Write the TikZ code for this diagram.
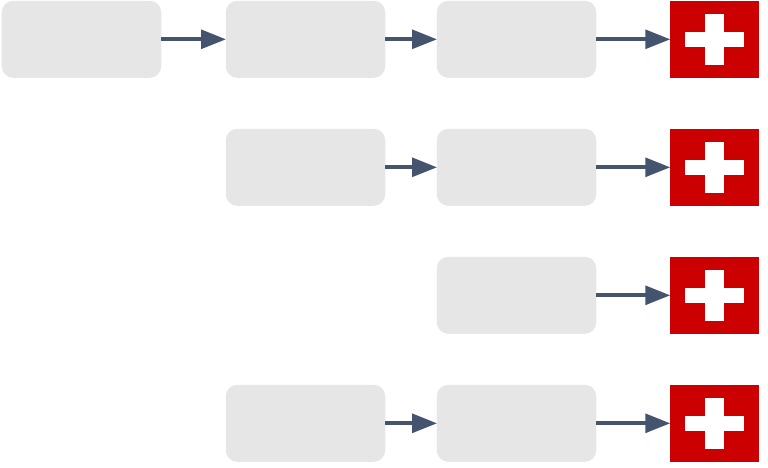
\documentclass[tikz,border=0pt]{standalone}
\usepackage{xcolor}
\usepackage{tikz}
\usetikzlibrary{calc, arrows.meta, positioning}
\tikzset{
    roundnode/.style = {draw=none, fill=gra, rectangle, rounded corners=1.15em, inner sep = 0em, 
      node distance=0em, minimum width=15.95em, minimum height=7.7em},
    flagnode/.style = {draw=none, fill=flagred, rectangle, inner sep = 0em, node distance=0em, 
      minimum width=8.9em, minimum height=7.7em, 
      path picture={
        \fill[white] ($(path picture bounding box.center)+(-2.95em,-0.75em)$) rectangle ++(5.9em,1.5em);
        \fill[white] ($(path picture bounding box.center)+(-0.92em,-2.6em)$) rectangle ++(1.84em,5.15em);
      }},
    connect/.style = {arrowblue, line width=0.42em, shorten >=-0.06em, 
      -{Triangle[length=2.5em, width=1.85em]}}
}
\definecolor{gra}{RGB}{230, 230, 230}
\definecolor{flagred}{RGB}{204, 0, 0}
\definecolor{arrowblue}{RGB}{68, 84, 110}
\begin{document}
\begin{tikzpicture}
\useasboundingbox (0em, 0em) rectangle (76.8em, -46.7em);

\node[roundnode, name=a1] at (8.15em, -3.93em) {}; 
\node[roundnode, name=b1, right of = a1, xshift=22.4em] {}; 
\node[roundnode, name=c1, right of = b1, xshift=21.1em] {}; 
\node[flagnode, name=flag1, right of = c1, xshift=19.8em] {}; 

\node[roundnode, name=b2, below of = b1, yshift=-12.8em] {}; 
\node[roundnode, name=c2, right of = b2, xshift=21.1em] {}; 
\node[flagnode, name=flag2, right of = c2, xshift=19.8em] {}; 

\node[roundnode, name=c3, below of = c2, yshift=-12.8em] {}; 
\node[flagnode, name=flag3, right of = c3, xshift=19.8em] {}; 

\node[roundnode, name=c4, below of = c3, yshift=-12.8em] {}; 
\node[roundnode, name=b4, left of = c4, xshift=-21.1em] {}; 
\node[flagnode, name=flag4, right of = c4, xshift=19.8em] {}; 

\draw[connect] (a1) -- (b1); 
\draw[connect] (b1) -- (c1); 
\draw[connect] (c1) -- (flag1); 
\draw[connect] (b2) -- (c2); 
\draw[connect] (c2) -- (flag2); 
\draw[connect] (c3) -- (flag3); 
\draw[connect] (b4) -- (c4); 
\draw[connect] (c4) -- (flag4); 
\end{tikzpicture}
\end{document}
